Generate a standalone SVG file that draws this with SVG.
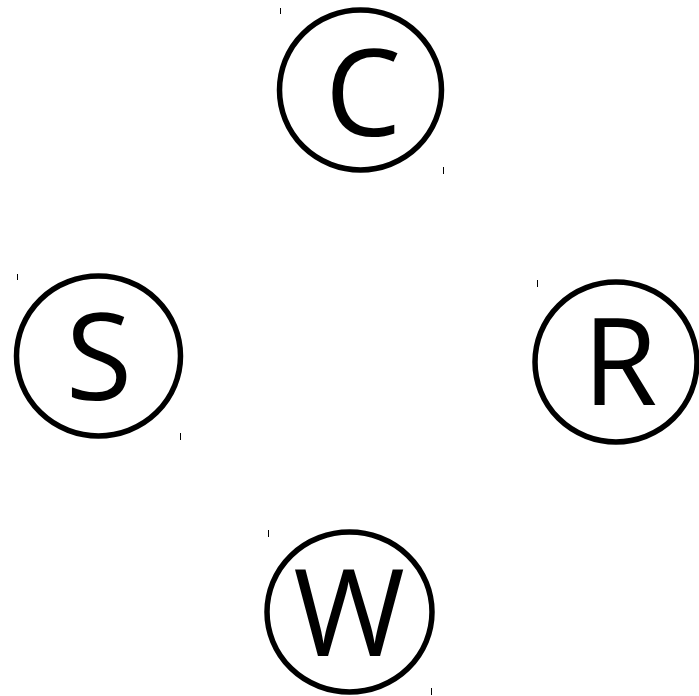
<svg xmlns="http://www.w3.org/2000/svg" width="699" height="696" viewBox="0 0 699 696">
<style>
.n{fill:none;stroke:#000;stroke-width:5.5}
.t{font-family:"Open Sans","Noto Sans",sans-serif;font-size:121px;text-anchor:middle;fill:#000}
.k{stroke:#000;stroke-width:1}
</style>
<rect width="699" height="696" fill="#fff"/>
<g id="edges"></g>
<g id="C">
<ellipse class="n" cx="360.5" cy="90" rx="81" ry="80"/>
<text class="t" x="363" y="136">C</text>
<line class="k" x1="280.5" y1="8" x2="280.5" y2="14"/>
<line class="k" x1="443.5" y1="167" x2="443.5" y2="174"/>
</g>
<g id="S">
<ellipse class="n" cx="98.5" cy="356" rx="82" ry="80"/>
<text class="t" x="99" y="400">S</text>
<line class="k" x1="17.5" y1="274" x2="17.5" y2="280"/>
<line class="k" x1="180.5" y1="433" x2="180.5" y2="440"/>
</g>
<g id="R">
<ellipse class="n" cx="616" cy="362" rx="81" ry="80"/>
<text class="t" x="620" y="405">R</text>
<line class="k" x1="537.5" y1="280" x2="537.5" y2="287"/>
</g>
<g id="W">
<ellipse class="n" cx="349.5" cy="612" rx="82.5" ry="80"/>
<text class="t" x="349" y="656">W</text>
<line class="k" x1="268.5" y1="530" x2="268.5" y2="537"/>
<line class="k" x1="431.5" y1="688" x2="431.5" y2="695"/>
</g>
</svg>
